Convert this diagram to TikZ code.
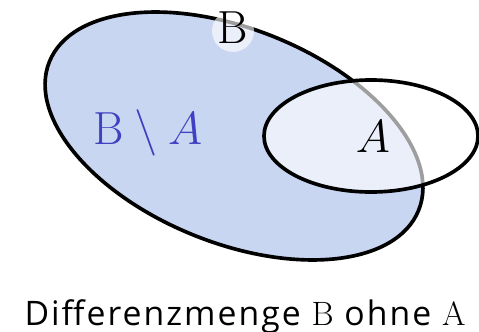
\documentclass[tikz,border=0pt]{standalone}
\usepackage{fix-cm}
\usepackage{fontspec}
\setsansfont{Open Sans}[LetterSpace=6]
\usepackage{tikz}
\usetikzlibrary{positioning}

\definecolor{setblue}{RGB}{200,214,242}
\definecolor{labelblue}{RGB}{64,64,192}

\begin{document}
\begin{tikzpicture}[
    x=0.025cm, y=0.025cm,
    setline/.style={draw=black, line width=2.6pt},
    veil/.style={fill=white, fill opacity=0.62},
    biglabel/.style={font=\fontsize{33}{38}\selectfont, inner sep=0pt}
]
\useasboundingbox (0,0) rectangle (479,331);

% set B
\fill[setblue, rotate around={-21.9:(234,195)}] (234,195) ellipse [x radius=199, y radius=107];
\draw[setline, rotate around={-21.9:(234,195)}] (234,195) ellipse [x radius=199, y radius=107];

% set A
\fill[veil] (371,195) ellipse [x radius=107, y radius=56];
\fill[veil] (233,300) circle [radius=21];
\draw[setline] (371,195) ellipse [x radius=107, y radius=56];

\node[biglabel] (lblB) at (233,303) {$\mathrm{B}$};
\node[biglabel] (lblA) at (373,194) {$A$};
\node[biglabel, text=labelblue] (lblBA) at (148,198) {$\mathrm{B}\setminus A$};

\node[font=\sffamily\fontsize{24}{28}\selectfont, anchor=base] (caption) at (245,6)
    {Differenzmenge $\mathrm{B}$ ohne $\mathrm{A}$};

\end{tikzpicture}
\end{document}
